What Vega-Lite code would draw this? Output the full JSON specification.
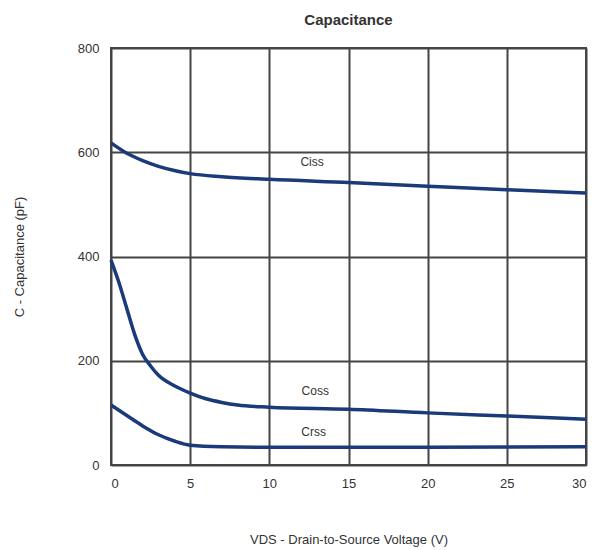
{
  "$schema": "https://vega.github.io/schema/vega-lite/v6.json",
  "width": 475,
  "height": 417,
  "autosize": {"type": "none"},
  "padding": {"left": 111, "top": 48, "right": 19, "bottom": 85},
  "background": "white",
  "config": {
    "font": "Liberation Sans",
    "view": {"stroke": "#444444", "strokeWidth": 2},
    "axis": {"domain": false, "ticks": false, "grid": true, "gridColor": "#444444", "gridWidth": 2, "gridOpacity": 1, "labelFont": "Liberation Sans", "labelFontSize": 13, "labelColor": "#333333", "titleFont": "Liberation Sans", "titleFontSize": 13, "titleFontWeight": "normal", "titleColor": "#333333"}
  },
  "title": {"text": "Capacitance", "fontSize": 15, "fontWeight": "bold", "color": "#333333", "anchor": "middle", "offset": 14, "font": "Liberation Sans"},
  "datasets": {
    "curves": [
      {"v": 0, "c": 618, "s": "Ciss"}, {"v": 1, "c": 598, "s": "Ciss"}, {"v": 2, "c": 584, "s": "Ciss"}, {"v": 3, "c": 573, "s": "Ciss"}, {"v": 4, "c": 565, "s": "Ciss"}, {"v": 5, "c": 559, "s": "Ciss"}, {"v": 7, "c": 553, "s": "Ciss"}, {"v": 10, "c": 548, "s": "Ciss"}, {"v": 15, "c": 542, "s": "Ciss"}, {"v": 20, "c": 535, "s": "Ciss"}, {"v": 25, "c": 528, "s": "Ciss"}, {"v": 30, "c": 522, "s": "Ciss"},
      {"v": 0, "c": 393, "s": "Coss"}, {"v": 0.5, "c": 350, "s": "Coss"}, {"v": 1, "c": 300, "s": "Coss"}, {"v": 1.5, "c": 250, "s": "Coss"}, {"v": 2, "c": 212, "s": "Coss"}, {"v": 2.5, "c": 190, "s": "Coss"}, {"v": 3, "c": 172, "s": "Coss"}, {"v": 4, "c": 152, "s": "Coss"}, {"v": 5, "c": 138, "s": "Coss"}, {"v": 6, "c": 127, "s": "Coss"}, {"v": 7, "c": 120, "s": "Coss"}, {"v": 8, "c": 115, "s": "Coss"}, {"v": 10, "c": 111, "s": "Coss"}, {"v": 15, "c": 107, "s": "Coss"}, {"v": 20, "c": 100, "s": "Coss"}, {"v": 25, "c": 94, "s": "Coss"}, {"v": 30, "c": 88, "s": "Coss"},
      {"v": 0, "c": 115, "s": "Crss"}, {"v": 1, "c": 95, "s": "Crss"}, {"v": 2, "c": 75, "s": "Crss"}, {"v": 3, "c": 58, "s": "Crss"}, {"v": 4, "c": 46, "s": "Crss"}, {"v": 5, "c": 38, "s": "Crss"}, {"v": 7, "c": 35, "s": "Crss"}, {"v": 10, "c": 34, "s": "Crss"}, {"v": 20, "c": 34, "s": "Crss"}, {"v": 30, "c": 35, "s": "Crss"}
    ],
    "labels": [
      {"v": 12.7, "c": 581, "t": "Ciss"},
      {"v": 12.9, "c": 142, "t": "Coss"},
      {"v": 12.8, "c": 63, "t": "Crss"}
    ]
  },
  "layer": [
    {
      "data": {"name": "curves"},
      "mark": {"type": "line", "color": "#1b3a7a", "strokeWidth": 3.5, "interpolate": "monotone"},
      "encoding": {
        "x": {"field": "v", "type": "quantitative", "scale": {"domain": [0, 30], "nice": false}, "axis": {"values": [0, 5, 10, 15, 20, 25, 30], "labelPadding": 12, "titlePadding": 43, "title": "VDS - Drain-to-Source Voltage (V)"}},
        "y": {"field": "c", "type": "quantitative", "scale": {"domain": [0, 800], "nice": false}, "axis": {"values": [0, 200, 400, 600, 800], "labelPadding": 12, "titlePadding": 51, "title": "C - Capacitance (pF)"}},
        "detail": {"field": "s"}
      }
    },
    {
      "data": {"name": "labels"},
      "mark": {"type": "text", "fontSize": 12, "color": "#333333", "font": "Liberation Sans"},
      "encoding": {
        "x": {"field": "v", "type": "quantitative"},
        "y": {"field": "c", "type": "quantitative"},
        "text": {"field": "t"}
      }
    }
  ]
}
